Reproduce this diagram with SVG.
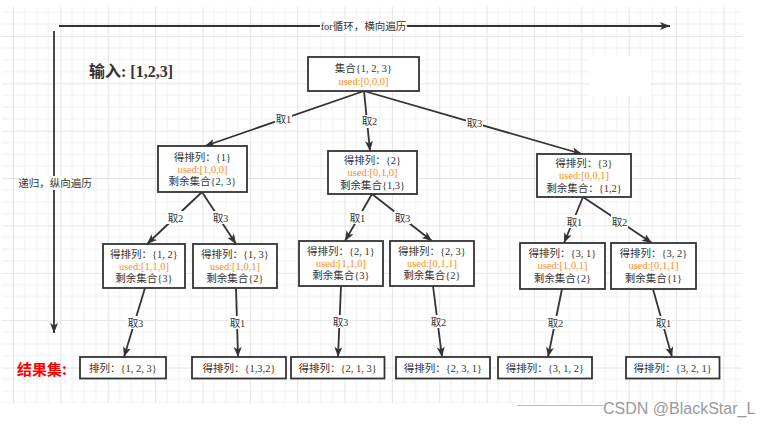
<svg xmlns="http://www.w3.org/2000/svg" width="769" height="426" viewBox="0 0 769 426">
<defs>
<style>
.bx{fill:#fff;stroke:#333;stroke-width:1.8}
.t{font-family:"Liberation Serif","Noto Sans CJK SC",serif;font-size:10.5px;fill:#333;text-anchor:middle}
.o{fill:#FF8C1A}
.e{stroke:#333;stroke-width:1.8;fill:none;marker-end:url(#arr)}
.lb{fill:#fff}
</style>
<pattern id="grid" x="13" y="36" width="47.36" height="47.36" patternUnits="userSpaceOnUse">
<rect width="47.36" height="47.36" fill="#fff"/>
<path d="M11.84 0V47.36M23.68 0V47.36M35.52 0V47.36M0 11.84H47.36M0 23.68H47.36M0 35.52H47.36" stroke="#f0f0f0" stroke-width="1"/>
<path d="M0.5 0V47.36M0 0.5H47.36" stroke="#e4e4e4" stroke-width="1"/>
</pattern>
<marker id="arr" markerUnits="userSpaceOnUse" markerWidth="12" markerHeight="10" refX="10" refY="4" orient="auto">
<path d="M0,0 L10,4 L0,8 L2.5,4 Z" fill="#333"/>
</marker>
</defs>
<rect x="0" y="0" width="769" height="426" fill="#fff"/>
<rect x="2" y="7" width="740" height="396" fill="url(#grid)"/>
<rect x="590" y="56" width="60" height="40" fill="#fff"/>

<g id="connectors">
<line class="e" x1="59" y1="26" x2="670" y2="26"/>
<line class="e" x1="54" y1="31" x2="54" y2="333"/>
<line class="e" x1="364" y1="91" x2="205" y2="146"/>
<line class="e" x1="364" y1="91" x2="370" y2="151"/>
<line class="e" x1="364" y1="91" x2="582" y2="154"/>
<line class="e" x1="202" y1="192" x2="147" y2="244"/>
<line class="e" x1="202" y1="192" x2="236" y2="244"/>
<line class="e" x1="372" y1="194" x2="345" y2="241"/>
<line class="e" x1="372" y1="194" x2="432" y2="241"/>
<line class="e" x1="583" y1="197" x2="564" y2="243"/>
<line class="e" x1="583" y1="197" x2="652" y2="243"/>
<line class="e" x1="145" y1="288" x2="124" y2="357"/>
<line class="e" x1="236" y1="288" x2="238" y2="357"/>
<line class="e" x1="341" y1="286" x2="338" y2="357"/>
<line class="e" x1="433" y1="286" x2="442" y2="357"/>
<line class="e" x1="562" y1="289" x2="548" y2="357"/>
<line class="e" x1="653" y1="289" x2="672" y2="357"/>
<g id="edge-labels">
<rect class="lb" x="320" y="19" width="87" height="14"/>
<text class="t" x="363.5" y="29.5">for循环，横向遍历</text>
<rect class="lb" x="19" y="176" width="72" height="14"/>
<text class="t" x="55" y="186.5">递归，纵向遍历</text>
<rect class="lb" x="275" y="113" width="17" height="13"/><text class="t" x="283.5" y="123">取1</text>
<rect class="lb" x="361" y="115" width="17" height="13"/><text class="t" x="369.5" y="125">取2</text>
<rect class="lb" x="466" y="117" width="17" height="13"/><text class="t" x="474.5" y="127">取3</text>
<rect class="lb" x="167" y="211" width="17" height="13"/><text class="t" x="175.5" y="221.5">取2</text>
<rect class="lb" x="212" y="211" width="17" height="13"/><text class="t" x="220.5" y="221.5">取3</text>
<rect class="lb" x="349" y="211" width="17" height="13"/><text class="t" x="357.5" y="221.5">取1</text>
<rect class="lb" x="394" y="211" width="17" height="13"/><text class="t" x="402.5" y="221.5">取3</text>
<rect class="lb" x="566" y="215" width="17" height="13"/><text class="t" x="574.5" y="225.5">取1</text>
<rect class="lb" x="611" y="215" width="17" height="13"/><text class="t" x="619.5" y="225.5">取2</text>
<rect class="lb" x="127" y="316" width="17" height="13"/><text class="t" x="135.5" y="326.5">取3</text>
<rect class="lb" x="229" y="316" width="17" height="13"/><text class="t" x="237.5" y="326.5">取1</text>
<rect class="lb" x="332" y="315" width="17" height="13"/><text class="t" x="340.5" y="325.5">取3</text>
<rect class="lb" x="430" y="315" width="17" height="13"/><text class="t" x="438.5" y="325.5">取2</text>
<rect class="lb" x="547" y="316" width="17" height="13"/><text class="t" x="555.5" y="326.5">取2</text>
<rect class="lb" x="655" y="316" width="17" height="13"/><text class="t" x="663.5" y="326.5">取1</text>
</g>
</g>

<text x="89" y="77" font-family="Liberation Serif,Noto Sans CJK SC,serif" font-size="16" font-weight="bold" fill="#333">输入: [1,2,3]</text>
<text x="17" y="375" font-family="Noto Sans CJK SC,sans-serif" font-size="15" font-weight="bold" fill="#f00">结果集:</text>

<g id="root"><rect class="bx" x="308" y="57" width="111" height="34"/>
<text class="t" x="363.5" y="71.5">集合{1, 2, 3}</text><text class="t o" x="363.5" y="84.5">used:[0,0,0]</text></g>

<g id="n1"><rect class="bx" x="158" y="146" width="89" height="46"/>
<text class="t" x="202.5" y="160.5">得排列：{1}</text><text class="t o" x="202.5" y="172.5">used:[1,0,0]</text><text class="t" x="202.5" y="185">剩余集合{2, 3}</text></g>

<g id="n2"><rect class="bx" x="328" y="151" width="89" height="43"/>
<text class="t" x="372.5" y="164">得排列：{2}</text><text class="t o" x="372.5" y="176">used:[0,1,0]</text><text class="t" x="372.5" y="188.5">剩余集合{1,3}</text></g>

<g id="n3"><rect class="bx" x="537" y="154" width="94" height="43"/>
<text class="t" x="584" y="167">得排列：{3}</text><text class="t o" x="584" y="179">used:[0,0,1]</text><text class="t" x="584" y="191.5">剩余集合：{1,2}</text></g>

<g id="n12"><rect class="bx" x="103" y="244" width="82" height="44"/>
<text class="t" x="144" y="257.5">得排列：{1, 2}</text><text class="t o" x="144" y="269.5">used:[1,1,0]</text><text class="t" x="144" y="282">剩余集合{3}</text></g>

<g id="n13"><rect class="bx" x="193" y="244" width="84" height="44"/>
<text class="t" x="235" y="257.5">得排列：{1, 3}</text><text class="t o" x="235" y="269.5">used:[1,0,1]</text><text class="t" x="235" y="282">剩余集合{2}</text></g>

<g id="n21"><rect class="bx" x="299" y="241" width="84" height="45"/>
<text class="t" x="341" y="254.5">得排列：{2, 1}</text><text class="t o" x="341" y="266.5">used:[1,1,0]</text><text class="t" x="341" y="279">剩余集合{3}</text></g>

<g id="n23"><rect class="bx" x="390" y="241" width="84" height="45"/>
<text class="t" x="432" y="254.5">得排列：{2, 3}</text><text class="t o" x="432" y="266.5">used:[0,1,1]</text><text class="t" x="432" y="279">剩余集合{2}</text></g>

<g id="n31"><rect class="bx" x="520" y="243" width="85" height="46"/>
<text class="t" x="562.5" y="257">得排列：{3, 1}</text><text class="t o" x="562.5" y="269">used:[1,0,1]</text><text class="t" x="562.5" y="281.5">剩余集合{2}</text></g>

<g id="n32"><rect class="bx" x="611" y="243" width="85" height="46"/>
<text class="t" x="653.5" y="257">得排列：{3, 2}</text><text class="t o" x="653.5" y="269">used:[0,1,1]</text><text class="t" x="653.5" y="281.5">剩余集合{1}</text></g>

<g id="r123"><rect class="bx" x="80" y="357" width="86" height="21.5"/><text class="t" x="123" y="371.5">排列：{1, 2, 3}</text></g>
<g id="r132"><rect class="bx" x="192" y="357" width="94" height="21.5"/><text class="t" x="239" y="371.5">得排列：{1,3,2}</text></g>
<g id="r213"><rect class="bx" x="291" y="357" width="93.5" height="21.5"/><text class="t" x="337.75" y="371.5">得排列：{2, 1, 3}</text></g>
<g id="r231"><rect class="bx" x="396" y="357" width="94" height="21.5"/><text class="t" x="443" y="371.5">得排列：{2, 3, 1}</text></g>
<g id="r312"><rect class="bx" x="498" y="357" width="94" height="21.5"/><text class="t" x="545" y="371.5">得排列：{3, 1, 2}</text></g>
<g id="r321"><rect class="bx" x="626" y="357" width="93.5" height="21.5"/><text class="t" x="672.75" y="371.5">得排列：{3, 2, 1}</text></g>

<line x1="517" y1="405.5" x2="603" y2="405.5" stroke="#bbb" stroke-width="1"/>
<text x="603" y="414" font-family="Liberation Sans,Arial,sans-serif" font-size="16" fill="#999">CSDN @BlackStar_L</text>
</svg>
